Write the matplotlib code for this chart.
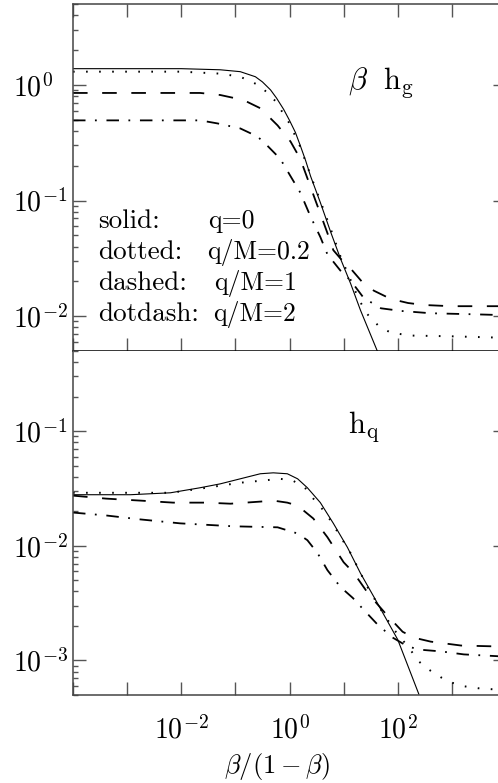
import numpy as np
import matplotlib
matplotlib.use("Agg")
import matplotlib.pyplot as plt
from matplotlib.ticker import LogLocator, NullLocator

# x axis is beta/(1-beta); positions kept as log10 values
# ---- top panel: beta h_g ----
hg_solid_lx = [-4, -2, -1.28, -0.91, -0.63, -0.5, -0.35, -0.24, -0.11, 0, 0.11, 0.2, 0.3,
               0.39, 0.57, 0.76, 0.94, 1.13, 1.31, 1.63]
hg_solid = [1.38, 1.38, 1.35, 1.30, 1.175, 1.06, 0.904, 0.769, 0.616, 0.493, 0.387, 0.298, 0.22,
            0.162, 0.096, 0.0535, 0.0316, 0.0191, 0.0113, 0.0049]

hg_dot_lx = [-4, -2, -1.28, -0.91, -0.54, -0.26, 0, 0.2, 0.39, 0.57, 0.76, 0.94, 1.13, 1.28,
             1.43, 1.65, 1.87, 2.24, 2.98, 4]
hg_dot = [1.30, 1.30, 1.25, 1.175, 0.98, 0.724, 0.464, 0.29, 0.165, 0.099, 0.057, 0.033, 0.0205,
          0.014, 0.0105, 0.0082, 0.0072, 0.0068, 0.0067, 0.0065]

hg_dash_lx = [-4, -1.65, -1.28, -0.85, -0.54, -0.22, 0.02, 0.2, 0.33, 0.48, 0.57, 0.70, 0.81,
              0.94, 1.13, 1.37, 1.56, 1.87, 2.19, 2.48, 2.98, 4]
hg_dash = [0.851, 0.851, 0.817, 0.739, 0.628, 0.446, 0.323, 0.229, 0.156, 0.100, 0.0769, 0.0524,
           0.0372, 0.0316, 0.0258, 0.0191, 0.0166, 0.0141, 0.0130, 0.0125, 0.0122, 0.0122]

hg_dd_lx = [-4, -1.65, -1.33, -0.91, -0.59, -0.41, -0.17, 0.02, 0.2, 0.39, 0.57, 0.70, 0.94,
            1.13, 1.37, 1.69, 2.06, 2.61, 3.35, 4]
hg_dd = [0.493, 0.493, 0.464, 0.420, 0.357, 0.298, 0.229, 0.162, 0.117, 0.0724, 0.0483, 0.0343,
         0.0248, 0.0203, 0.0144, 0.0117, 0.0111, 0.0106, 0.0104, 0.0102]

# ---- bottom panel: h_q ----
hq_solid_lx = [-4, -2.94, -2.2, -1.65, -1.28, -0.91, -0.54, -0.30, -0.04, 0.15, 0.33, 0.57,
               0.81, 1.07, 1.31, 1.56, 2.0, 2.39]
hq_solid = [0.0279, 0.0279, 0.0290, 0.0321, 0.0347, 0.0384, 0.0425, 0.0433, 0.0425, 0.0384,
            0.0321, 0.0238, 0.0157, 0.0097, 0.00578, 0.00358, 0.00152, 0.000508]

hq_dot_lx = [-4, -2.2, -1.65, -0.91, -0.54, -0.17, 0.07, 0.30, 0.44, 0.63, 0.76, 1.13, 1.44,
             1.69, 1.93, 2.19, 2.39, 2.57, 2.80, 2.98, 3.22, 3.48, 4.0]
hq_dot = [0.0290, 0.0290, 0.0315, 0.0355, 0.0369, 0.0384, 0.0369, 0.0315, 0.0258, 0.0203,
          0.0166, 0.00861, 0.00438, 0.00277, 0.00186, 0.00132, 0.00098, 0.000835, 0.000712,
          0.000645, 0.000596, 0.000573, 0.00055]

hq_dash_lx = [-4, -3.39, -2.76, -2.15, -1.54, -1.09, -0.54, -0.30, -0.04, 0.15, 0.44, 0.70,
              1.0, 1.19, 1.46, 1.78, 2.09, 2.30, 2.61, 3.17, 4.0]
hq_dash = [0.0274, 0.0258, 0.0248, 0.0238, 0.0238, 0.0233, 0.0243, 0.0248, 0.0238, 0.0224,
           0.0173, 0.0119, 0.00719, 0.00578, 0.0038, 0.00255, 0.00178, 0.00158, 0.00146,
           0.00135, 0.00132]

hq_dd_lx = [-4, -3.39, -2.76, -2.02, -1.04, -0.22, 0.15, 0.33, 0.52, 0.70, 0.94, 1.17, 1.37,
            1.63, 1.91, 2.19, 2.43, 2.80, 3.22, 4.0]
hq_dd = [0.0195, 0.0184, 0.0170, 0.0157, 0.0148, 0.0145, 0.0128, 0.0112, 0.00861, 0.00614,
         0.00438, 0.00351, 0.00277, 0.00205, 0.00158, 0.00132, 0.00124, 0.0012, 0.00113, 0.00108]

legend_names = ["solid:", "dotted:", "dashed:", "dotdash:"]
legend_vals = ["q=0", "q/M=0.2", "q/M=1", "q/M=2"]

plt.rcParams['mathtext.fontset'] = 'cm'
plt.rcParams['lines.scale_dashes'] = False

W, H = 498, 783
fig = plt.figure(figsize=(W / 100, H / 100), dpi=100)


def px_axes(x0, y0, x1, y1):
    return fig.add_axes([x0 / W, 1 - y1 / H, (x1 - x0) / W, (y1 - y0) / H])


ax1 = px_axes(73, 4, 506, 351)
ax2 = px_axes(73, 351, 506, 695)

# line styles: solid, dotted, dashed, dot-dash
styles = [dict(lw=0.8, ls='-'),
          dict(lw=1.4, dashes=(1.2, 8.2)),
          dict(lw=1.3, dashes=(10.5, 10.5)),
          dict(lw=1.3, dashes=(9.0, 6.8, 1.3, 7.0))]

top_sets = [(hg_solid_lx, hg_solid), (hg_dot_lx, hg_dot), (hg_dash_lx, hg_dash), (hg_dd_lx, hg_dd)]
bot_sets = [(hq_solid_lx, hq_solid), (hq_dot_lx, hq_dot), (hq_dash_lx, hq_dash), (hq_dd_lx, hq_dd)]

for ax, sets in [(ax1, top_sets), (ax2, bot_sets)]:
    for (lx, y), st in zip(sets, styles):
        ax.plot(10.0 ** np.array(lx), y, color='black', **st)

xt = 10.0 ** np.arange(-4, 5)
xlab = [r'$10^{%d}$' % e if e in (-2, 0, 2) else '' for e in range(-4, 5)]

for ax, ylim, yt in [(ax1, (0.005, 5), [1e-2, 1e-1, 1e0]),
                     (ax2, (0.0005, 0.5), [1e-3, 1e-2, 1e-1])]:
    ax.set_xscale('log')
    ax.set_yscale('log')
    ax.set_xlim(1e-4, 1e4)
    ax.set_ylim(*ylim)
    ax.set_yticks(yt, [r'$10^{%d}$' % round(np.log10(v)) for v in yt], ha='left', fontsize=20)
    ax.yaxis.set_minor_locator(LogLocator(base=10, subs=np.arange(2, 10), numticks=20))
    ax.xaxis.set_minor_locator(NullLocator())
    ax.tick_params(which='both', direction='in', left=True, right=True, color='#555555', width=1.0)
    ax.tick_params(which='major', length=9.4)
    ax.tick_params(which='minor', length=3.8)
    ax.tick_params(axis='y', which='major', pad=43)
    for sp in ax.spines.values():
        sp.set_color('#444444')
        sp.set_linewidth(1.1)

ax1.set_xticks(xt, [''] * len(xt))
ax1.tick_params(axis='x', top=True, bottom=True)
ax1.xaxis.set_minor_locator(NullLocator())
ax1.spines['bottom'].set_color('black')

ax2.set_xticks(xt, xlab, fontsize=20)
ax2.xaxis.set_minor_locator(NullLocator())
ax2.tick_params(axis='x', top=False, bottom=True, pad=15)
ax2.spines['top'].set_visible(False)

# panel labels
ax1.text((348 - 73) / 433, 1 - (89 - 4) / 347, r'$\beta\ \ \mathrm{h}_{\mathrm{g}}$',
         transform=ax1.transAxes, fontsize=22, va='baseline')
ax2.text((348 - 73) / 433, 1 - (433 - 351) / 344, r'$\mathrm{h}_{\mathrm{q}}$',
         transform=ax2.transAxes, fontsize=22, va='baseline')

# legend written as text
base_px = [228, 259, 290, 321]
val_px = [208, 207, 214, 213]
for name, val, b, vx in zip(legend_names, legend_vals, base_px, val_px):
    yy = 1 - (b - 4) / 347
    ax1.text((98 - 73) / 433, yy, name, transform=ax1.transAxes, fontsize=19.5,
             family='cmr10', va='baseline')
    ax1.text((vx - 73) / 433, yy, val, transform=ax1.transAxes, fontsize=18.5,
             family='cmr10', va='baseline')

fig.text(277 / W, 1 - 766 / H, r'$\beta/(1-\beta)$', fontsize=19, ha='center', va='center')

fig.savefig('out.png', dpi=100)
